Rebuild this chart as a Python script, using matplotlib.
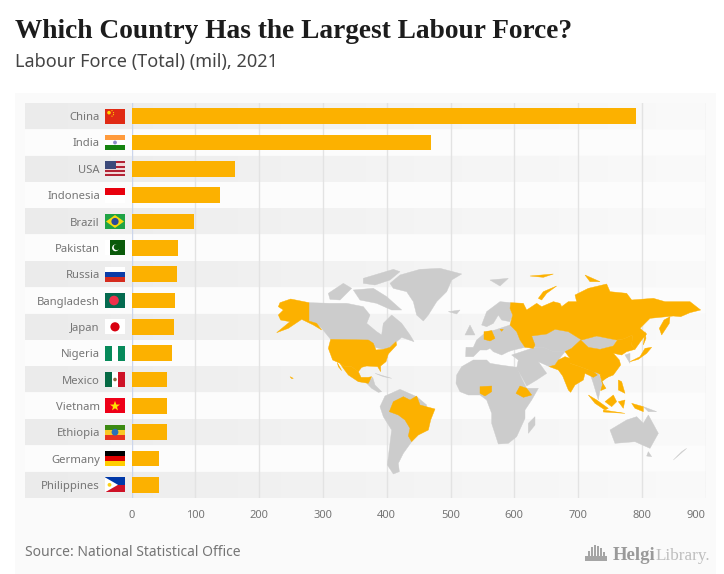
import numpy as np
import matplotlib
matplotlib.use("Agg")
import matplotlib.pyplot as plt
from matplotlib.patches import Polygon, Rectangle, Circle
from matplotlib.colors import LinearSegmentedColormap

countries = ["China", "India", "USA", "Indonesia", "Brazil", "Pakistan", "Russia", "Bangladesh",
             "Japan", "Nigeria", "Mexico", "Vietnam", "Ethiopia", "Germany", "Philippines"]
labour_force = [790, 470, 163, 139, 98, 73, 71, 68, 67, 63, 56, 56, 56, 43, 43]
x_ticks = [0, 100, 200, 300, 400, 500, 600, 700, 800, 900]

TITLE = "Which Country Has the Largest Labour Force?"
SUBTITLE = "Labour Force (Total) (mil), 2021"
SOURCE = "Source: National Statistical Office"

ORANGE = "#FCB100"
GREY = "#CCCCCC"
TXT = "#757575"
SANS = "Noto Sans"

W, H = 724, 574
fig = plt.figure(figsize=(W / 100, H / 100), dpi=100, facecolor="white")

def px_axes(left, top, right, bottom):
    return [left / W, 1 - bottom / H, (right - left) / W, (bottom - top) / H]

# panel background
bg = fig.add_axes([0, 0, 1, 1], zorder=0)
bg.set_xlim(0, W); bg.set_ylim(H, 0); bg.axis("off")
bg.add_patch(Rectangle((15, 93), 701, 481, fc="#FAFAFA", ec="none"))

# main chart
ax = fig.add_axes(px_axes(131.5, 103, 705.7, 498), zorder=1)
ax.patch.set_alpha(0)
y = np.arange(len(countries))
band_left = -(131.5 - 25) / 0.638
cmap = LinearSegmentedColormap.from_list("b", ["#EBEBEB", "#F3F3F3", "#FAFAFA"])
grad = np.linspace(0, 1, 256).reshape(1, -1)
for i in y:
    if i % 2 == 0:
        ax.imshow(grad, extent=(band_left, 900, i + 0.49, i - 0.49), aspect="auto",
                  cmap=cmap, clip_on=False, zorder=0.5, vmin=0, vmax=1)
    else:
        ax.add_patch(Rectangle((band_left, i - 0.49), 900 - band_left, 0.98, fc="#FCFCFC",
                               ec="none", clip_on=False, zorder=0.4))
ax.barh(y, labour_force, height=0.6, color=ORANGE, zorder=3)
ax.set_xlim(0, 900)
ax.set_ylim(len(countries) - 0.5, -0.5)
ax.set_xticks(x_ticks)
ax.set_yticks(y, countries)
ax.grid(axis="x", color="#E3E3E3", lw=1, zorder=1)
ax.set_axisbelow(False)
for ln in ax.get_xgridlines():
    ln.set_zorder(1)
ax.get_xgridlines()[0].set_color("#CCD6EB")
for s in ax.spines.values():
    s.set_visible(False)
ax.tick_params(axis="x", length=0, pad=8.5, labelsize=8, labelcolor=TXT)
ax.tick_params(axis="y", length=0, pad=22.8, labelsize=8.1, labelcolor=TXT)
for t in ax.get_xticklabels() + ax.get_yticklabels():
    t.set_family(SANS)
ax.get_xticklabels()[-1].set_ha("right")

# overlay in pixel coordinates: decoration (map, flags, logo)
ov = fig.add_axes([0, 0, 1, 1], zorder=2)
ov.set_xlim(0, W); ov.set_ylim(H, 0); ov.axis("off"); ov.patch.set_alpha(0)

def poly(pts, color):
    p = [(260 + a / 3, 260 + b / 3) for a, b in pts]
    ov.add_patch(Polygon(p, closed=True, fc=color, ec=color, lw=0.3))

grey_shapes = [
    [(390,70),(420,45),(480,28),(540,25),(605,42),(575,60),(560,95),(530,125),(505,165),(490,183),(470,165),(460,125),(440,95),(400,85)],
    [(147,128),(210,130),(260,130),(310,140),(330,165),(320,190),(350,215),(365,225),(370,190),(395,165),(425,190),(450,225),(462,245),(425,232),(410,245),(390,262),(370,268),(345,262),(325,240),(212,238),(185,205),(170,190),(147,183)],
    [(205,100),(250,70),(275,85),(240,120),(210,118)],
    [(310,55),(400,28),(420,35),(390,60),(345,75),(310,70)],
    [(280,90),(340,85),(380,110),(425,150),(395,150),(350,130),(300,120)],
    [(320,370),(338,352),(345,375),(365,395),(355,397),(335,385)],
    [(345,340),(395,355),(370,350)],
    [(375,408),(420,388),(470,410),(500,435),(480,500),(455,545),(430,580),(415,610),(418,635),(400,642),(382,615),(390,550),(395,510),(370,470),(360,440)],
    [(590,345),(605,320),(640,300),(680,300),(690,310),(720,315),(770,322),(785,355),(800,385),(835,385),(815,420),(795,450),(795,475),(770,530),(745,550),(715,552),(695,490),(695,460),(680,420),(660,405),(625,405),(600,395),(588,370)],
    [(825,470),(825,495),(805,520),(805,490)],
    [(755,285),(815,265),(830,262),(850,262),(880,275),(915,275),(895,300),(885,315),(868,320),(835,305),(860,340),(830,360),(800,378),(785,350),(770,325),(775,300)],
    [(617,290),(618,262),(640,262),(650,240),(680,215),(705,210),(750,195),(770,215),(780,240),(795,262),(760,270),(745,275),(725,285),(700,275),(690,265),(680,270),(660,270),(640,290)],
    [(665,195),(680,155),(720,125),(752,128),(750,145),(758,165),(750,185),(725,180),(715,165),(700,190),(680,200)],
    [(615,225),(630,195),(645,225)],
    [(565,155),(600,150),(590,162)],
    [(690,60),(745,55),(720,78)],
    [(815,228),(860,222),(885,208),(925,215),(965,240),(935,265),(915,275),(880,275),(850,262),(820,262)],
    [(962,240),(1010,228),(1045,235),(1070,240),(1060,258),(1020,268),(985,262)],
    [(985,325),(1015,340),(1020,350),(1035,385),(1020,390),(1015,420),(1000,370)],
    [(1095,285),(1110,280),(1110,310)],
    [(1050,510),(1100,480),(1130,470),(1150,490),(1165,465),(1195,520),(1170,565),(1125,545),(1065,550)],
    [(1280,565),(1240,600),(1265,575)],
    [(1165,575),(1175,590),(1160,588)],
    [(1150,440),(1190,455),(1165,455)],
]
orange_shapes = [
    [(60,128),(92,117),(147,128),(147,183),(170,190),(185,210),(160,195),(125,178),(85,205),(50,218),(90,185),(62,180),(55,165),(70,150),(55,140)],
    [(212,238),(325,240),(340,250),(348,270),(370,268),(390,262),(408,245),(410,255),(385,282),(378,305),(362,318),(362,335),(353,320),(320,318),(305,322),(295,335),(275,320),(255,320),(240,310),(218,300),(205,265)],
    [(240,310),(255,320),(275,320),(295,335),(303,352),(325,352),(335,350),(325,370),(295,365),(265,345),(250,325)],
    [(232,308),(245,332),(235,320)],
    [(388,455),(400,425),(430,410),(450,420),(470,408),(480,435),(525,447),(512,480),(505,510),(475,525),(455,545),(445,528),(450,505),(435,480),(415,465)],
    [(660,380),(695,378),(695,395),(675,408),(660,400)],
    [(780,378),(800,385),(815,405),(790,412),(768,400)],
    [(672,215),(695,212),(705,235),(690,243),(672,238)],
    [(720,208),(730,208),(725,214)],
    [(752,128),(790,130),(800,150),(830,130),(845,140),(880,125),(900,130),(905,140),(925,125),(950,125),(945,105),(985,85),(1040,72),(1050,95),(1100,100),(1115,120),(1180,115),(1215,125),(1290,125),(1322,150),(1290,158),(1262,170),(1240,168),(1170,175),(1155,190),(1140,205),(1160,222),(1145,240),(1125,268),(1115,255),(1118,225),(1090,237),(1070,240),(1045,235),(1010,228),(965,240),(925,215),(885,208),(860,222),(815,228),(825,255),(820,265),(795,262),(780,240),(770,215),(750,195),(758,165),(750,145)],
    [(1230,170),(1228,190),(1205,225),(1198,205),(1212,180)],
    [(835,115),(850,95),(890,78),(860,100),(845,120)],
    [(810,48),(880,42),(850,52)],
    [(975,45),(1020,65),(990,65)],
    [(1155,215),(1158,235),(1150,255)],
    [(915,275),(935,265),(962,240),(985,262),(1020,268),(1060,258),(1072,240),(1090,237),(1118,225),(1115,255),(1125,268),(1100,275),(1085,285),(1060,280),(1078,300),(1082,315),(1060,345),(1035,355),(1015,340),(1000,335),(960,320),(930,310),(930,295)],
    [(868,320),(885,315),(895,300),(915,290),(930,295),(930,310),(960,320),(1000,335),(1012,345),(1000,352),(975,340),(970,360),(945,375),(932,397),(925,390),(908,348),(895,330)],
    [(1020,345),(1045,350),(1025,365),(1038,385),(1022,392),(1028,372)],
    [(985,405),(1010,420),(1045,445),(1035,450),(1005,430)],
    [(1030,450),(1095,460),(1030,456)],
    [(1035,425),(1060,405),(1070,425),(1055,440)],
    [(1075,425),(1095,420),(1090,445)],
    [(1115,430),(1150,440),(1150,455),(1125,445)],
    [(1075,360),(1085,365),(1095,400),(1075,390)],
    [(1110,305),(1140,290),(1155,265),(1175,262),(1160,280),(1135,298)],
    [(90,350),(100,355),(95,356)],
]
for s in grey_shapes:
    poly(s, GREY)
for s in orange_shapes:
    poly(s, ORANGE)

# flags
def stripes_h(yc, colors, fracs=None):
    fracs = fracs or [1 / len(colors)] * len(colors)
    t = yc - 7.5
    for c, f in zip(colors, fracs):
        ov.add_patch(Rectangle((105, t), 20, 15 * f, fc=c, ec="none"))
        t += 15 * f

def stripes_v(yc, colors, fracs=None):
    fracs = fracs or [1 / len(colors)] * len(colors)
    l = 105
    for c, f in zip(colors, fracs):
        ov.add_patch(Rectangle((l, yc - 7.5), 20 * f, 15, fc=c, ec="none"))
        l += 20 * f

def dot(x, y_, r, c):
    ov.add_patch(Circle((x, y_), r, fc=c, ec="none"))

def tri(pts, c):
    ov.add_patch(Polygon(pts, closed=True, fc=c, ec="none"))

yc = {c: 103 + (i + 0.5) * 395 / 15 for i, c in enumerate(countries)}
Y = yc["China"]; stripes_h(Y, ["#E02A14"]); dot(109, Y - 3.5, 1.8, "#FFD800")
for a, b in [(112, -5.5), (113.5, -3.5), (113.5, -1.5), (112, 0)]:
    dot(a, Y + b, 0.6, "#FFD800")
Y = yc["India"]; stripes_h(Y, ["#FF9A3C", "#FFFFFF", "#15830F"]); dot(115, Y, 1.9, "#8C8CC8")
Y = yc["USA"]; stripes_h(Y, ["#B22234", "#F0D8D8"] * 3 + ["#B22234"]); ov.add_patch(Rectangle((105, Y - 7.5), 11, 8, fc="#3C4A7A", ec="none"))
Y = yc["Indonesia"]; stripes_h(Y, ["#E8000D", "#FFFFFF"])
Y = yc["Brazil"]; stripes_h(Y, ["#1FA345"]); tri([(106, Y), (115, Y - 6.5), (124, Y), (115, Y + 6.5)], "#F6D80F"); dot(115, Y, 3.6, "#2A4A9B")
Y = yc["Pakistan"]; stripes_v(Y, ["#FFFFFF", "#0A5A0A"], [0.25, 0.75]); dot(115.5, Y, 3.4, "#FFFFFF"); dot(116.7, Y - 0.7, 3.0, "#0A5A0A")
Y = yc["Russia"]; stripes_h(Y, ["#FFFFFF", "#0A3CA8", "#D52B1E"])
Y = yc["Bangladesh"]; stripes_h(Y, ["#046A4F"]); dot(114, Y, 4.8, "#F0304A")
Y = yc["Japan"]; stripes_h(Y, ["#FFFFFF"]); dot(115, Y, 4.6, "#D80010")
Y = yc["Nigeria"]; stripes_v(Y, ["#078A5A", "#FFFFFF", "#078A5A"])
Y = yc["Mexico"]; stripes_v(Y, ["#056A44", "#FFFFFF", "#CE1126"]); dot(115, Y, 1.8, "#8E6A40")
Y = yc["Vietnam"]; stripes_h(Y, ["#EE0018"]); tri([(115, Y - 5), (116.3, Y - 1.3), (120, Y - 1.3), (117, Y + 1), (118, Y + 4.6), (115, Y + 2.4), (112, Y + 4.6), (113, Y + 1), (110, Y - 1.3), (113.7, Y - 1.3)], "#FFE000")
Y = yc["Ethiopia"]; stripes_h(Y, ["#3C8A12", "#F9C824", "#E8321E"]); dot(115, Y, 3.4, "#2A70B8")
Y = yc["Germany"]; stripes_h(Y, ["#000000", "#DD0000", "#FFCE00"])
Y = yc["Philippines"]; stripes_h(Y, ["#0038A8", "#CE1126"]); tri([(105, Y - 7.5), (118, Y), (105, Y + 7.5)], "#FFFFFF"); dot(109.5, Y, 1.9, "#FCD116")

# texts
fig.text(15 / W, 1 - 38 / H, TITLE, family="Liberation Serif", weight="bold", fontsize=19.7, color="#1C1C1C", va="baseline")
fig.text(15 / W, 1 - 67 / H, SUBTITLE, family=SANS, fontsize=13, color="#444444", va="baseline")
fig.text(25 / W, 1 - 556 / H, SOURCE, family=SANS, fontsize=10, color=TXT, va="baseline")

# logo
for dx, h_ in zip([0, 3, 6, 9, 12, 15], [7, 11, 13, 12, 10, 6]):
    ov.add_patch(Rectangle((588 + dx, 558 - h_), 1.8, h_, fc="#A5A5A5", ec="none"))
ov.add_patch(Rectangle((585, 556), 22, 5, fc="#A5A5A5", ec="none"))
fig.text(613 / W, 1 - 560 / H, "Helgi", family="Liberation Serif", weight="bold", fontsize=13.5, color="#9A9A9A", va="baseline")
fig.text(656 / W, 1 - 560 / H, "Library.", family="Liberation Serif", fontsize=12.3, color="#BDBDBD", va="baseline")

fig.savefig("out.png", dpi=100)
